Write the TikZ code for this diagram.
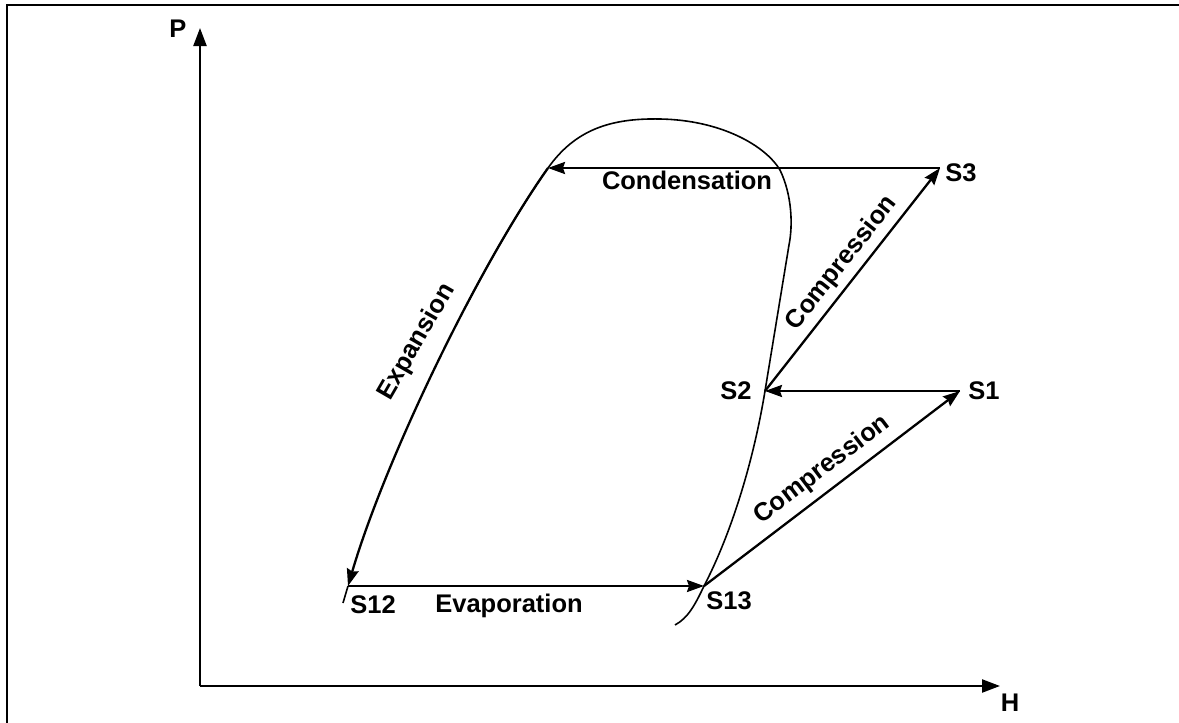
\documentclass[tikz,border=0pt]{standalone}
\usepackage{fontspec}
\setmainfont{Liberation Sans}
\usetikzlibrary{arrows.meta}
\begin{document}
\begin{tikzpicture}[x=1pt,y=-1pt,
  lbl/.style={font=\fontsize{25.5}{30}\selectfont\bfseries, inner sep=0pt},
  flow/.style={line width=2.3pt, -{Stealth[length=17pt,width=12pt,inset=2pt]}},
  axis/.style={line width=2.3pt, -{Triangle[length=18pt,width=13pt]}},
  dome/.style={line width=1.6pt}]
\useasboundingbox (0,0) rectangle (1179,723);
% frame
\draw[line width=2.3pt] (7,723) -- (7,5) -- (1179,5);
% axes
\coordinate (O) at (200,686);
\coordinate (Ptip) at (200,28);
\coordinate (Htip) at (1000,686);
\draw[axis] (O) -- (Ptip);
\draw[axis] (O) -- (Htip);
\node[lbl] (Plab) at (178,29) {P};
\node[lbl] (Hlab) at (1010,703) {H};
% state points
\coordinate (C) at (548,168);
\coordinate (S3) at (940,168);
\coordinate (S2) at (765,391);
\coordinate (S1) at (960,391);
\coordinate (S13) at (704,586);
\coordinate (S12) at (348,586);
\coordinate (S12tail) at (343,603);
% dome (saturation curve)
\begin{scope}
  \clip (0,0) rectangle (1179,305);
  \draw[dome] (C) .. controls (478,267) and (385,460) .. (S12);
\end{scope}
\draw[dome] (C) .. controls (575,130) and (610,118) .. (660,119)
  .. controls (720,120) and (765,145) .. (780,170)
  .. controls (792,195) and (793,225) .. (789,245)
  -- (S2)
  .. controls (752,470) and (728,540) .. (S13)
  .. controls (695,605) and (688,618) .. (675,625);
% cycle
\draw[flow] (S3) -- (C);
\draw[flow] (S2) -- (S3);
\draw[flow] (S1) -- (S2);
\draw[flow] (S13) -- (S1);
\draw[flow] (S12) -- (S13);
\draw[flow] (C) .. controls (478,267) and (385,460) .. (S12);
\draw[line width=1.6pt] (S12) -- (S12tail);
% labels
\node[lbl] (S3lab) at (961,173) {S3};
\node[lbl] (S2lab) at (736,391) {S2};
\node[lbl] (S1lab) at (984,391) {S1};
\node[lbl] (S13lab) at (729,601) {S13};
\node[lbl] (S12lab) at (373,605) {S12};
\node[lbl] (cond) at (687,180) {Condensation};
\node[lbl] (evap) at (509,606) {Evaporation};
\node[lbl, rotate=51.8] (comp1) at (842,263) {Compression};
\node[lbl, rotate=37.2] (comp2) at (822,470) {Compression};
\node[lbl, rotate=60] (exp) at (417,342) {Expansion};
\end{tikzpicture}
\end{document}
